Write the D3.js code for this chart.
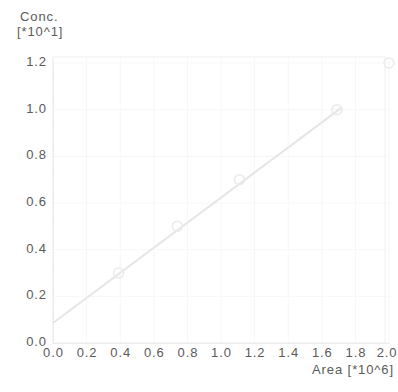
<!DOCTYPE html>
<html>
<head>
<meta charset="utf-8">
<script src="https://cdn.jsdelivr.net/npm/d3@7"></script>
<style>
  body { margin: 0; background: #fff; }
  text { font-family: "Liberation Sans", Arial, sans-serif; font-size: 13px; fill: #5a5a5a; letter-spacing: 0.9px; }
</style>
</head>
<body>
<svg class="chart" width="398" height="392"></svg>
<script>
// calibration points: area [*10^6] vs conc [*10^1]
var area = [0.39, 0.74, 1.11, 1.69, 2.0];
var conc = [0.30, 0.50, 0.70, 1.00, 1.20];
// fitted line ends
var fitX = [0.0, 1.72];
var fitY = [0.086, 1.01];

var xTicks = [0.0, 0.2, 0.4, 0.6, 0.8, 1.0, 1.2, 1.4, 1.6, 1.8, 2.0];
var yTicks = [0.0, 0.2, 0.4, 0.6, 0.8, 1.0, 1.2];

var margin = {top: 63, right: 9, bottom: 49, left: 53},
    width = 398 - margin.left - margin.right,
    height = 392 - margin.top - margin.bottom;

var svg = d3.select(".chart");
var chart = svg.append("g")
    .attr("transform", "translate(" + margin.left + "," + margin.top + ")");

var x = d3.scaleLinear().domain([0, 2]).range([0, width]);
var y = d3.scaleLinear().domain([0, 1.2]).range([height, 0]);

// faint grid
chart.append("g").selectAll("line").data(xTicks).enter().append("line")
    .attr("x1", function(d) { return x(d); }).attr("x2", function(d) { return x(d); })
    .attr("y1", -6).attr("y2", height)
    .attr("stroke", "#f7f7f7");
chart.append("g").selectAll("line").data(yTicks).enter().append("line")
    .attr("y1", function(d) { return y(d); }).attr("y2", function(d) { return y(d); })
    .attr("x1", 0).attr("x2", width)
    .attr("stroke", "#f7f7f7");

// frame
chart.append("rect")
    .attr("x", 0).attr("y", -6)
    .attr("width", width - 4).attr("height", height + 6)
    .attr("fill", "none").attr("stroke", "#f0f0f0");

var xAxis = d3.axisBottom(x).tickValues(xTicks).tickSize(0).tickPadding(5)
    .tickFormat(d3.format(".1f"));
var yAxis = d3.axisLeft(y).tickValues(yTicks).tickSize(0).tickPadding(6)
    .tickFormat(d3.format(".1f"));

var gx = chart.append("g")
    .attr("transform", "translate(0," + height + ")")
    .call(xAxis);
gx.select(".domain").attr("stroke", "#ececec");
// last label pulled in so it stays inside the picture
gx.selectAll(".tick text")
    .attr("text-anchor", function(d) { return d === 2 ? "end" : "middle"; })
    .attr("dx", function(d) { return d === 2 ? 8 : 0; });

var gy = chart.append("g").call(yAxis);
gy.select(".domain").attr("stroke", "#ddd").attr("stroke-dasharray", "1,2");
gy.selectAll(".tick text").attr("dy", "0.2em");

// fit line
chart.append("line")
    .attr("x1", x(fitX[0])).attr("y1", y(fitY[0]))
    .attr("x2", x(fitX[1])).attr("y2", y(fitY[1]))
    .attr("stroke", "#e6e6e6")
    .attr("stroke-width", 2);

// points
chart.selectAll("circle.pt").data(area).enter().append("circle")
    .attr("class", "pt")
    .attr("cx", function(d) { return x(d); })
    .attr("cy", function(d, i) { return y(conc[i]); })
    .attr("r", 5)
    .attr("fill", "none")
    .attr("stroke", "#ebebeb")
    .attr("stroke-width", 1.5);

// axis titles
svg.append("text").attr("x", 20).attr("y", 21).text("Conc.");
svg.append("text").attr("x", 17).attr("y", 36).text("[*10^1]");
svg.append("text").attr("x", 394).attr("y", 374).attr("text-anchor", "end").text("Area [*10^6]");
</script>
</body>
</html>
